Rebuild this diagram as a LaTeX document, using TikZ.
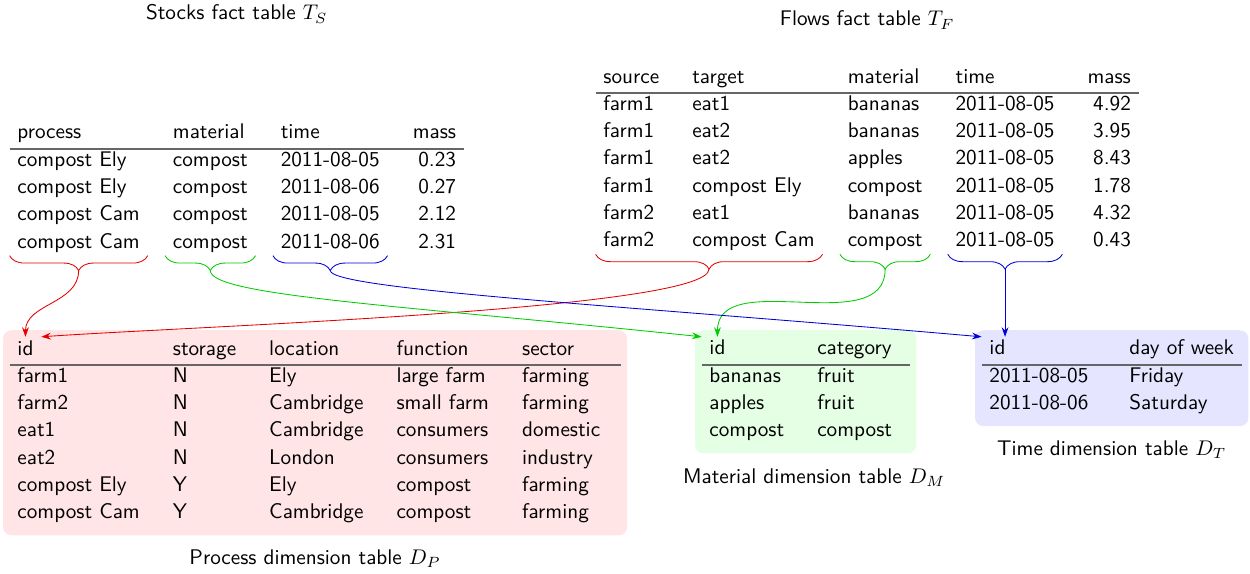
\documentclass[tikz,border=0pt]{standalone}
\usepackage{tikz}
\usetikzlibrary{matrix,positioning,decorations.pathreplacing,arrows.meta}

\tikzset{
  facttable/.style={matrix of nodes, column sep=8.6pt, row sep=0pt, inner sep=0pt,
    nodes={anchor=base west, inner xsep=3.5pt, inner ysep=1.6pt,
      text height=6.78pt, text depth=2.9pt}},
  dimtable/.style={facttable, inner sep=3.3pt, rounded corners=4pt},
  headrule/.style={draw=black!60, line width=0.8pt},
  colbrace/.style={decorate, decoration={brace, mirror, amplitude=7pt}},
  keyarrow/.style={-{Stealth[length=4.5pt,width=3.2pt]}},
}

\begin{document}
\begin{tikzpicture}[x=0.4717pt, y=-0.4717pt, font=\sffamily]
\useasboundingbox (0,0) rectangle (1250,574);

% fact tables
\matrix (ts) [facttable, matrix anchor=ts-1-1.base west,
  column 4/.style={nodes={anchor=base east}}] at (9.6,139) {
  process & material & time & mass \\
  compost Ely & compost & 2011-08-05 & 0.23 \\
  compost Ely & compost & 2011-08-06 & 0.27 \\
  compost Cam & compost & 2011-08-05 & 2.12 \\
  compost Cam & compost & 2011-08-06 & 2.31 \\
};
\node (tscap) at (ts.north |- 0,14) {Stocks fact table $T_S$};
\draw[headrule] (ts-1-1.south west) -- (ts-1-4.south east);

\matrix (tf) [facttable, matrix anchor=tf-1-1.base west,
  column 5/.style={nodes={anchor=base east}}] at (595.6,83) {
  source & target & material & time & mass \\
  farm1 & eat1 & bananas & 2011-08-05 & 4.92 \\
  farm1 & eat2 & bananas & 2011-08-05 & 3.95 \\
  farm1 & eat2 & apples & 2011-08-05 & 8.43 \\
  farm1 & compost Ely & compost & 2011-08-05 & 1.78 \\
  farm2 & eat1 & bananas & 2011-08-05 & 4.32 \\
  farm2 & compost Cam & compost & 2011-08-05 & 0.43 \\
};
\node (tfcap) at (tf.north |- 0,20) {Flows fact table $T_F$};
\draw[headrule] (tf-1-1.south west) -- (tf-1-5.south east);

% dimension tables
\matrix (pd) [dimtable, fill=red!10, matrix anchor=pd-1-1.base west,
  column 5/.style={nodes={text width=42.7pt}}] at (9.6,355) {
  id & storage & location & function & sector \\
  farm1 & N & Ely & large farm & farming \\
  farm2 & N & Cambridge & small farm & farming \\
  eat1 & N & Cambridge & consumers & domestic \\
  eat2 & N & London & consumers & industry \\
  compost Ely & Y & Ely & compost & farming \\
  compost Cam & Y & Cambridge & compost & farming \\
};
\node (pdcap) [below=3pt of pd] {Process dimension table $D_P$};
\draw[headrule] (pd-1-1.south west) -- (pd-1-5.south east);

\matrix (md) [dimtable, fill=green!10, matrix anchor=md-1-1.base west,
  column 2/.style={nodes={text width=39.9pt}}] at (701.6,355) {
  id & category \\
  bananas & fruit \\
  apples & fruit \\
  compost & compost \\
};
\node (mdcap) [below=3.5pt of md, xshift=4pt] {Material dimension table $D_M$};
\draw[headrule] (md-1-1.south west) -- (md-1-2.south east);

\matrix (td) [dimtable, fill=blue!10, matrix anchor=td-1-1.base west,
  column 1/.style={nodes={text width=50.4pt}}] at (981.6,355) {
  id & day of week \\
  2011-08-05 & Friday \\
  2011-08-06 & Saturday \\
};
\node (tdcap) [below=3pt of td] {Time dimension table $D_T$};
\draw[headrule] (td-1-1.south west) -- (td-1-2.south east);

% braces under the key columns
\draw[colbrace, red!90!black] ([yshift=1.2pt]ts-5-1.south west) -- ([yshift=1.2pt]ts-5-1.south east) coordinate[midway, yshift=-7pt] (sproc);
\draw[colbrace, green!80!black] ([yshift=1.2pt]ts-5-2.south west) -- ([yshift=1.2pt]ts-5-2.south east) coordinate[midway, yshift=-7pt] (smat);
\draw[colbrace, blue!85!black] ([yshift=1.2pt]ts-5-3.south west) -- ([yshift=1.2pt]ts-5-3.south east) coordinate[midway, yshift=-7pt] (stime);
\draw[colbrace, red!90!black] ([yshift=1.2pt]tf-7-1.south west) -- ([yshift=1.2pt]tf-7-2.south east) coordinate[midway, yshift=-7pt] (fproc);
\draw[colbrace, green!80!black] ([yshift=1.2pt]tf-7-3.south west) -- ([yshift=1.2pt]tf-7-3.south east) coordinate[midway, yshift=-7pt] (fmat);
\draw[colbrace, blue!85!black] ([yshift=1.2pt]tf-7-4.south west) -- ([yshift=1.2pt]tf-7-4.south east) coordinate[midway, yshift=-7pt] (ftime);

% keys to ids
\draw[keyarrow, red!90!black] (sproc) to[out=-90, in=90] (pd-1-1.north);
\draw[keyarrow, red!90!black] (fproc) to[out=-90, in=4, out distance=19pt, in distance=71pt] (pd-1-1.north east);
\draw[keyarrow, green!80!black] (smat) to[out=-90, in=174, out distance=12pt, in distance=142pt] (md-1-1.north west);
\draw[keyarrow, green!80!black] (fmat) to[out=-90, in=90] (md-1-1.north);
\draw[keyarrow, blue!85!black] (stime) to[out=-90, in=175, out distance=9pt, in distance=165pt] (td-1-1.north west);
\draw[keyarrow, blue!85!black] (ftime) -- (ftime |- td-1-1.north);

\end{tikzpicture}
\end{document}
